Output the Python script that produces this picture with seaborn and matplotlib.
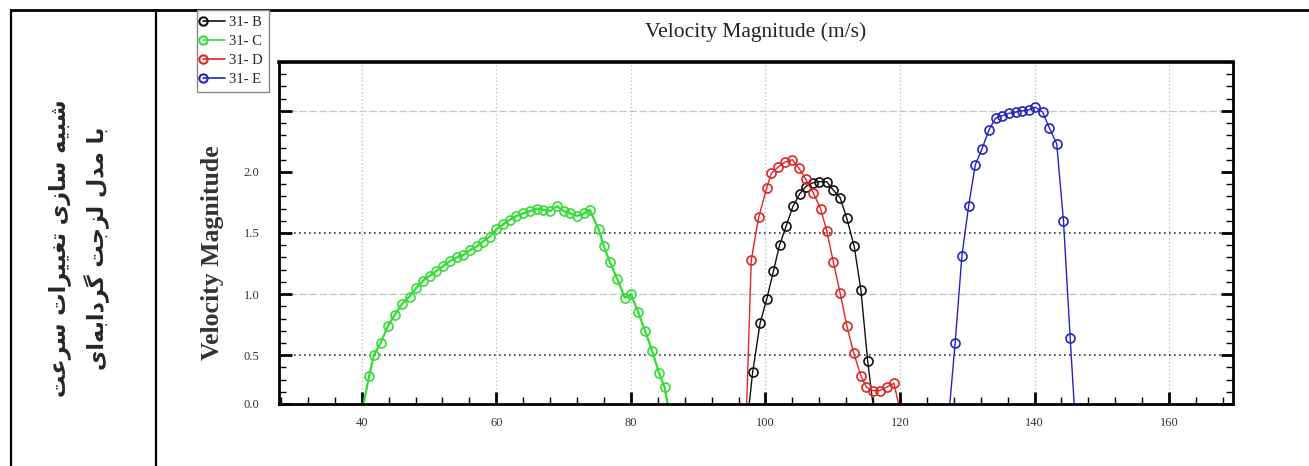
import numpy as np
import matplotlib
matplotlib.use("Agg")
import matplotlib.pyplot as plt
from matplotlib.lines import Line2D
from matplotlib.legend_handler import HandlerLine2D
from matplotlib.ticker import MultipleLocator, FixedLocator
import seaborn as sns

# ----- donnees -----
x_B = [97.4, 98.1, 99.2, 100.2, 101.2, 102.1, 103.1, 104.1, 105.1, 106.0, 107.0,
       108.0, 109.1, 110.1, 111.1, 112.1, 113.2, 114.2, 115.2, 116.2]
y_B = [0.0, 0.36, 0.76, 0.96, 1.19, 1.40, 1.56, 1.72, 1.82, 1.88, 1.91,
       1.92, 1.92, 1.85, 1.79, 1.62, 1.39, 1.03, 0.45, 0.0]

x_C = [39.9, 41.1, 41.8, 42.8, 43.9, 44.9, 46.0, 47.1, 48.1, 49.1, 50.1, 51.1,
       52.1, 53.1, 54.1, 55.1, 56.1, 57.1, 58.0, 59.0, 60.0, 61.0, 62.0, 63.0,
       64.0, 65.0, 66.0, 67.0, 68.0, 69.0, 70.0, 71.0, 72.0, 73.0, 73.9, 75.2,
       76.0, 76.9, 78.0, 79.1, 80.0, 81.1, 82.1, 83.2, 84.2, 85.0, 85.8]
y_C = [0.0, 0.33, 0.50, 0.60, 0.74, 0.83, 0.92, 0.98, 1.05, 1.11, 1.15, 1.19,
       1.23, 1.27, 1.30, 1.32, 1.36, 1.39, 1.43, 1.47, 1.53, 1.57, 1.61, 1.64,
       1.66, 1.68, 1.70, 1.69, 1.68, 1.72, 1.68, 1.66, 1.64, 1.66, 1.69, 1.53,
       1.39, 1.26, 1.12, 0.97, 1.00, 0.85, 0.70, 0.53, 0.35, 0.24, 0.0]

x_D = [97.15, 97.9, 99.0, 100.2, 100.9, 101.9, 102.9, 104.0, 105.0, 106.0, 107.1,
       108.2, 109.1, 110.1, 111.1, 112.1, 113.1, 114.2, 115.0, 116.0, 117.0,
       118.1, 119.1, 120.2]
y_D = [0.0, 1.28, 1.63, 1.87, 1.99, 2.04, 2.08, 2.10, 2.03, 1.94, 1.83,
       1.70, 1.52, 1.26, 1.01, 0.74, 0.52, 0.33, 0.24, 0.21, 0.21,
       0.24, 0.27, 0.0]

x_E = [127.25, 128.2, 129.2, 130.2, 131.2, 132.2, 133.2, 134.2, 135.2, 136.2,
       137.2, 138.2, 139.2, 140.1, 141.2, 142.2, 143.3, 144.3, 145.3, 146.0]
y_E = [0.0, 0.60, 1.31, 1.72, 2.06, 2.19, 2.34, 2.44, 2.46, 2.48,
       2.49, 2.50, 2.51, 2.53, 2.49, 2.36, 2.23, 1.60, 0.64, 0.0]

noms_series = ["31- B", "31- C", "31- D", "31- E"]
x_ticks = [40, 60, 80, 100, 120, 140, 160]
y_ticks = [0.1, 0.5, 1.0, 1.5, 2.0, 2.5]
y_ticklabels = ["0.0", "0.5", "1.0", "1.5", "2.0", ""]

titre = "Velocity Magnitude (m/s)"
label_y = "Velocity Magnitude"
texte_fa = ["شبیه سازی تغییرات سرعت", "با مدل لزجت گردابه\u200cای"]

# ----- mise en forme arabe (matplotlib ne fait pas le shaping) -----
# lettre: (isolee, finale, initiale, mediane) ; None = ne se lie pas a gauche
FORMES = {
    "ا": ("\uFE8D", "\uFE8E", None, None),
    "ب": ("\uFE8F", "\uFE90", "\uFE91", "\uFE92"),
    "ت": ("\uFE95", "\uFE96", "\uFE97", "\uFE98"),
    "ج": ("\uFE9D", "\uFE9E", "\uFE9F", "\uFEA0"),
    "د": ("\uFEA9", "\uFEAA", None, None),
    "ر": ("\uFEAD", "\uFEAE", None, None),
    "ز": ("\uFEAF", "\uFEB0", None, None),
    "س": ("\uFEB1", "\uFEB2", "\uFEB3", "\uFEB4"),
    "ش": ("\uFEB5", "\uFEB6", "\uFEB7", "\uFEB8"),
    "ع": ("\uFEC9", "\uFECA", "\uFECB", "\uFECC"),
    "غ": ("\uFECD", "\uFECE", "\uFECF", "\uFED0"),
    "ل": ("\uFEDD", "\uFEDE", "\uFEDF", "\uFEE0"),
    "م": ("\uFEE1", "\uFEE2", "\uFEE3", "\uFEE4"),
    "ه": ("\uFEE9", "\uFEEA", "\uFEEB", "\uFEEC"),
    "ی": ("\uFBFC", "\uFBFD", "\uFBFE", "\uFBFF"),
    "گ": ("\uFB92", "\uFB93", "\uFB94", "\uFB95"),
}


def shape_fa(txt):
    out = []
    for i, c in enumerate(txt):
        if c not in FORMES:
            if c != "\u200c":
                out.append(c)
            continue
        prev = txt[i - 1] if i > 0 else None
        nxt = txt[i + 1] if i + 1 < len(txt) else None
        lie_avant = prev in FORMES and FORMES[prev][2] is not None
        lie_apres = nxt in FORMES and FORMES[c][2] is not None
        iso, fin, ini, med = FORMES[c]
        if lie_avant and lie_apres:
            out.append(med)
        elif lie_avant:
            out.append(fin)
        elif lie_apres:
            out.append(ini)
        else:
            out.append(iso)
    return "".join(reversed(out))


class MarqueurGauche(HandlerLine2D):
    # legende facon "o--" : le cercle a gauche du trait
    def create_artists(self, *args, **kwargs):
        arts = super().create_artists(*args, **kwargs)
        for a in arts:
            a.set_markevery([0])
        return arts


sns.set_theme(style="white")
plt.rcParams["font.family"] = "serif"
plt.rcParams["font.serif"] = ["Liberation Serif", "DejaVu Serif"]

W, H = 1309, 466
fig = plt.figure(figsize=(W / 100, H / 100), dpi=100)
ax = fig.add_axes([279 / W, 1 - 404 / H, (1233 - 279) / W, (404 - 62) / H])

series = [(x_B, y_B, "#111111"), (x_C, y_C, "#33dd33"),
          (x_D, y_D, "#e02525"), (x_E, y_E, "#2424c0")]
handles = []
for (xs, ys, col), nom in zip(series, noms_series):
    n = len(xs)
    lw = 1.6 if col == "#33dd33" else 1.0
    sns.lineplot(x=xs, y=ys, ax=ax, sort=False, estimator=None, color=col, lw=lw,
                 marker="o", markersize=6.5, markerfacecolor="none",
                 markeredgecolor=col, markeredgewidth=1.2,
                 markevery=list(range(1, n - 1)), legend=False)
    handles.append(Line2D([], [], color=col, lw=1.2, marker="o", markersize=6,
                          markerfacecolor="none", markeredgecolor=col,
                          markeredgewidth=1.5, label=nom))

# grille facon Tecplot
for xv in x_ticks:
    ax.axvline(xv, color="#b8b8b8", ls=(0, (1, 2)), lw=0.9, zorder=0)
for yv in [0.5, 1.5]:
    ax.axhline(yv, color="#333333", ls=(0, (1, 2)), lw=1.2, zorder=0)
for yv in [1.0, 2.5]:
    ax.axhline(yv, color="#c4c4c4", ls=(0, (6, 2)), lw=0.9, zorder=0)

ax.set_xlim(27.7, 169.5)
ax.set_ylim(0.1, 2.9)
ax.set_xticks(x_ticks)
ax.xaxis.set_minor_locator(MultipleLocator(4))
ax.yaxis.set_major_locator(FixedLocator(y_ticks))
ax.set_yticklabels(y_ticklabels)
ax.yaxis.set_minor_locator(MultipleLocator(0.1))
ax.tick_params(which="both", direction="in", left=True, right=True,
               bottom=True, top=False, colors="black")
ax.tick_params(which="major", length=9, width=2)
ax.tick_params(which="minor", length=5, width=1)
ax.tick_params(axis="y", which="major", pad=14, labelsize=9, labelcolor="#333333")
ax.tick_params(axis="x", which="major", pad=9, labelsize=9, labelcolor="#333333")
for s in ax.spines.values():
    s.set_linewidth(2)
    s.set_color("black")
ax.spines["top"].set_linewidth(2.6)

ax.set_xlabel("")
ax.set_ylabel(label_y, fontsize=18.5, weight="bold", color="#333333")
ax.yaxis.set_label_coords(-0.058, 0.4415)
ax.text(0.5, 1 + 30 / 342, titre, transform=ax.transAxes, ha="center",
        va="center", fontsize=15.5, color="#222222")

fig.legend(handles=handles, loc="upper left",
           bbox_to_anchor=(197 / W, 1 - 10 / H), frameon=True, fancybox=False,
           edgecolor="#888888", framealpha=1, fontsize=10.5, handlelength=1.5,
           handletextpad=0.3, labelspacing=0.4, borderpad=0.4,
           borderaxespad=0, handler_map={Line2D: MarqueurGauche(numpoints=1)})

# cadre du tableau
fig.add_artist(Line2D([11 / W, 1], [1 - 10 / H, 1 - 10 / H], color="black", lw=2,
                      transform=fig.transFigure))
for xv in [11, 156]:
    fig.add_artist(Line2D([xv / W, xv / W], [0, 1 - 10 / H], color="black", lw=1.6,
                          transform=fig.transFigure))

fig.text(79 / W, 1 - 248 / H, "\n".join(shape_fa(t) for t in texte_fa),
         rotation=90, ha="center", va="center", multialignment="center",
         fontsize=16, weight="bold", family=["DejaVu Sans"], linespacing=1.6)

fig.savefig("out.png", dpi=100, facecolor="white")
